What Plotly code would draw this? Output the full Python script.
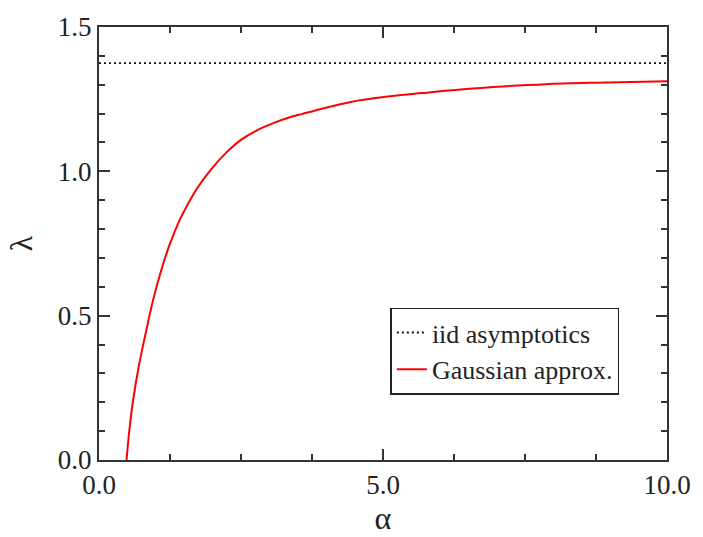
import plotly.graph_objects as go

# Gaussian approximation of lambda(alpha)
alpha = [0.485, 0.53, 0.60, 0.706, 0.835, 0.951, 1.098, 1.243, 1.419, 1.536,
         1.651, 1.739, 1.974, 2.236, 2.499, 2.79, 3.08, 3.375, 3.58, 3.81,
         4.45, 5.04, 5.68, 6.32, 7.18, 7.86, 8.74, 10.0]
lam_gauss = [0.0, 0.095, 0.207, 0.330, 0.451, 0.553, 0.659, 0.746, 0.831, 0.876,
             0.916, 0.945, 1.007, 1.064, 1.109, 1.143, 1.168, 1.188, 1.199, 1.211,
             1.241, 1.258, 1.271, 1.283, 1.295, 1.302, 1.307, 1.312]

# iid asymptotic level
iid_x = [0.0, 10.0]
iid_level = 1.375

x_ticks = [0.0, 5.0, 10.0]
y_ticks = [0.0, 0.5, 1.0, 1.5]

FONT = "Times New Roman, Liberation Serif, DejaVu Serif, serif"
INK = "#222222"

fig = go.Figure()
fig.add_trace(go.Scatter(
    x=iid_x, y=[iid_level] * len(iid_x), mode="lines",
    name="iid asymptotics",
    line=dict(color="#111111", width=1.8, dash="2px,3px"),
))
fig.add_trace(go.Scatter(
    x=alpha, y=lam_gauss, mode="lines", line_shape="spline",
    line_smoothing=1.0,
    name="Gaussian approx.",
    line=dict(color="red", width=2),
))

axis_common = dict(
    showgrid=False, zeroline=False, showline=True, linecolor="#333333",
    linewidth=2, ticks="inside", mirror="ticks", tickcolor="#333333",
    tickwidth=2, tickformat=".1f",
    tickfont=dict(family=FONT, size=27, color=INK),
)

fig.update_xaxes(
    range=[0, 10], tickvals=x_ticks, ticklen=11,
    minor=dict(dtick=1.25, tick0=0, ticks="inside", ticklen=6,
               tickcolor="#333333", tickwidth=2, showgrid=False),
    title=dict(text="α", font=dict(family=FONT, size=32, color=INK), standoff=2),
    **axis_common,
)
fig.update_yaxes(
    range=[0, 1.5], tickvals=y_ticks, ticklen=11,
    minor=dict(dtick=0.1, tick0=0, ticks="inside", ticklen=6,
               tickcolor="#333333", tickwidth=2, showgrid=False),
    title=dict(text="λ", font=dict(family=FONT, size=32, color=INK), standoff=16),
    **axis_common,
)

fig.update_layout(
    width=703, height=537,
    margin=dict(l=99, r=33, t=20, b=76),
    paper_bgcolor="white", plot_bgcolor="white",
    showlegend=True,
    legend=dict(
        x=0.513, y=0.352, xanchor="left", yanchor="top",
        bordercolor="#222222", borderwidth=1.5, bgcolor="white",
        font=dict(family=FONT, size=26, color=INK),
        tracegroupgap=0, itemwidth=30,
    ),
)

fig.write_html("out.html")
